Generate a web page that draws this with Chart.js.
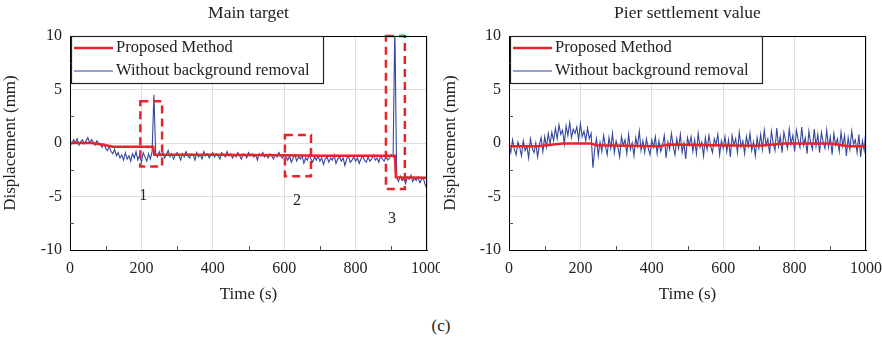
<!DOCTYPE html>
<html>
<head>
<meta charset="utf-8">
<script src="https://cdn.jsdelivr.net/npm/chart.js@4.4.0/dist/chart.umd.min.js"></script>
<style>
    body { margin: 0; background: #fff; width: 882px; height: 347px; position: relative; overflow: hidden; }
    .wrap { position: absolute; top: 0; height: 310px; }
    #cap { position: absolute; top: 316px; left: 0; width: 882px; text-align: center;
           font: 17px 'Liberation Serif', serif; color: #222; }
</style>
</head>
<body>
<div class="wrap" style="left:0;width:440px"><canvas id="main" width="440" height="310"></canvas></div>
<div class="wrap" style="left:440px;width:442px"><canvas id="pier" width="442" height="310"></canvas></div>
<div id="cap">(c)</div>
<script>
// sampling interval of the raw (without background removal) signals, seconds
var STEP = 5;

// Main target, without background removal (one value every 5 s, 0..1000)
var mainRaw = [
    0.2, -0.1, 0.3, 0.0, 0.4, -0.2, 0.1, 0.3, -0.1, 0.2, 0.5, 0.0, 0.3, 0.1, -0.2, 0.2, 0.0,
    -0.2, -0.4, -0.1, -0.5, -0.7, -0.3, -0.8, -1.0, -0.6, -1.2, -0.9, -1.4, -1.1, -1.6, -0.9,
    -1.5, -1.2, -1.7, -1.0, -1.4, -0.8, -1.6, -1.1, -1.8, -0.9, -1.3, -1.7, -1.0, -1.5, -0.8,
    4.5,
    -1.0, -1.3, -0.8, -1.2, -0.9, -1.4, -1.1, -0.7, -1.3, -1.0,
    -1.5, -1.1, -0.9, -1.2, -1.6, -1.0, -1.3, -0.8, -1.2, -1.4,
    -1.0, -1.1, -1.6, -0.9, -1.3, -1.1, -1.5, -0.8, -1.2, -1.0,
    -1.4, -1.1, -0.9, -1.3, -1.0, -1.2, -1.5, -0.9, -1.1, -1.3,
    -0.8, -1.2, -1.0, -1.4, -1.1, -1.3, -0.9, -1.2, -1.5, -1.0,
    -1.1, -1.4, -0.9, -1.2, -1.0, -1.3, -1.1, -1.6, -1.0, -1.2,
    -0.9, -1.3, -1.1, -1.4, -1.0, -1.2, -1.5, -1.1, -1.3, -0.9,
    -1.2, -1.4, -1.1,
    -1.3, -1.6, -1.2, -1.8, -1.4, -1.1, -1.7, -1.3, -1.5, -1.2,
    -1.9, -1.4, -1.6, -1.1, -1.5, -1.8, -1.3, -1.6, -1.2, -1.7,
    -1.4, -2.0, -1.5, -1.3, -1.8, -1.4, -1.6, -1.1, -1.9, -1.5,
    -1.3, -1.7, -1.4, -2.1, -1.5, -1.2, -1.8, -1.6, -1.3, -1.7,
    -1.4, -1.9, -1.5, -1.2, -1.6, -1.8, -1.3, -1.7, -1.5, -1.1,
    -1.6, -1.4, -1.8, -1.2, -1.5, -1.7, -1.3, -1.6, -1.4, -1.1,
    -1.3,
    11,
    -3.2, -3.6, -3.1, -3.5, -3.3, -3.8, -3.2, -3.4, -3.0, -3.6, -3.3, -3.5, -3.2, -3.7, -3.4, -3.3, -3.9, -4.3
];

// Main target, proposed method
var mainProposedT = [0, 60, 90, 120, 233, 236, 400, 600, 700, 910, 913, 1000];
var mainProposedV = [0, 0, -0.15, -0.35, -0.35, -1.1, -1.1, -1.15, -1.2, -1.2, -3.2, -3.25];

// Pier settlement value, without background removal (one value every 5 s)
var pierRaw = [
    -0.2, -0.9, 0.3, -0.6, -1.1, 0.1, -0.4, -1.2, 0.2, -0.7, -0.3, -1.4, 0.4, -0.5, -0.9, 0.0,
    -1.3, -0.2, 0.5, -0.8, 0.6, -0.4, 0.9, -0.1,
    1.0, 0.2, 1.4, 0.4, 1.7, 0.8, 1.2, -0.1, 1.6, 0.7, 1.9, 0.5, 1.3, 0.9, 1.5, 0.3, 1.8, 0.6,
    1.1, 0.2, 1.4, 0.4, 0.9,
    -2.3,
    -0.6, 0.4, -1.2, 0.1, -0.8, 0.7, -0.3, -1.1, 0.5, -0.5, 0.9, -0.9, 0.2, -0.4, -1.3, 0.6,
    -0.2, 0.3, -1.0, 0.8, -0.6, 0.0, -1.2, 0.5, -0.3, 1.1, -0.7, 0.2, -0.9, 0.4, -0.5, -1.1, 0.3,
    -0.4, 0.6, -1.0, 0.2, -0.8, -0.2, 0.7, -1.4, 0.1, -0.6, 0.9, -0.3, -1.1, 0.4, -0.5, 0.8,
    -0.9, 0.0, -1.5, 0.5, -0.2, 0.6, -0.8, 0.3, -1.0, 0.9, -0.4, 0.1, -1.2, 0.5, -0.6, 0.7,
    -0.3, -0.9, 0.4, -0.1, 0.8, -1.1, 0.2, -0.5, 0.6, -0.8, 0.3, -1.3, 0.7, -0.2, 0.4, -0.9,
    1.0, -0.4, 0.2, -1.0, 0.6, -0.3, 0.9, -0.7, 0.1, -1.2, 0.5, -0.5,
    0.8, -0.6, 1.2, -0.2, 0.4, -1.0, 1.1, 0.0, -0.7, 1.4, -0.3, 0.6, -0.9, 1.0, 0.2, -0.5,
    1.3, -0.1, 0.7, -0.8, 1.2, 0.3, -0.4, 1.5, -0.2, 0.5, -1.0, 1.1, 0.0, -0.6, 1.3, -0.3,
    0.8, -0.9, 1.0, 0.1, -0.5, 1.2, -0.4, 0.6, -1.1, 0.9, -0.2, 0.4, -0.8, 1.0, -0.3, 0.7,
    -1.2, 0.5, -0.6, 1.1, -0.1, 0.3, -0.9, 0.8, -1.3, 0.2, -0.7, 1.4
];

var pierProposedT = [0, 80, 150, 230, 245, 420, 450, 560, 700, 770, 900, 950, 1000];
var pierProposedV = [-0.3, -0.3, -0.05, -0.05, -0.2, -0.3, -0.15, -0.2, -0.25, -0.05, -0.05, -0.3, -0.3];

// dashed boxes marking the events on the main target (data units)
var boxX1 = [197, 602, 885];
var boxX2 = [258, 675, 938];
var boxY1 = [-2.2, -3.1, -4.3];
var boxY2 = [3.9, 0.75, 10];
var boxLabels = ['1', '2', '3'];
var boxLabelX = [205, 636, 902];
var boxLabelY = [-4.9, -5.4, -7.1];

var labels = ['Proposed Method', 'Without background removal'];
var RED = '#e8232b';
var BLUE = '#34469f';
var FONT = "'Liberation Serif', 'Times New Roman', serif";

function pairs(t, v) {
    return v.map(function (y, i) { return { x: t[i], y: y }; });
}
function rawPairs(v) {
    return v.map(function (y, i) { return { x: i * STEP, y: y }; });
}

var extras = {
    id: 'extras',
    afterDatasetsDraw: function (chart, args, opts) {
        var ctx = chart.ctx;
        var a = chart.chartArea;
        var xs = chart.scales.x, ys = chart.scales.y;
        ctx.save();

        // event boxes
        if (opts.boxes) {
            ctx.strokeStyle = RED;
            ctx.lineWidth = 2.5;
            ctx.setLineDash([8, 5]);
            for (var i = 0; i < boxX1.length; i++) {
                var l = xs.getPixelForValue(boxX1[i]), r = xs.getPixelForValue(boxX2[i]);
                var t = ys.getPixelForValue(boxY2[i]), b = ys.getPixelForValue(boxY1[i]);
                ctx.strokeRect(l, t, r - l, b - t);
            }
            ctx.setLineDash([]);
            ctx.fillStyle = '#222';
            ctx.font = '16px ' + FONT;
            ctx.textAlign = 'center';
            ctx.textBaseline = 'middle';
            for (var j = 0; j < boxLabels.length; j++) {
                ctx.fillText(boxLabels[j], xs.getPixelForValue(boxLabelX[j]), ys.getPixelForValue(boxLabelY[j]));
            }
        }

        // frame
        ctx.strokeStyle = '#000';
        ctx.lineWidth = 1;
        ctx.strokeRect(a.left + 0.5, a.top + 0.5, a.right - a.left - 1, a.bottom - a.top);

        // minor ticks
        ctx.strokeStyle = '#555';
        [100, 300, 500, 700, 900].forEach(function (v) {
            var px = Math.round(xs.getPixelForValue(v)) + 0.5;
            ctx.beginPath(); ctx.moveTo(px, a.bottom); ctx.lineTo(px, a.bottom - 4); ctx.stroke();
        });
        [7.5, 2.5, -2.5, -7.5].forEach(function (v) {
            var py = Math.round(ys.getPixelForValue(v)) + 0.5;
            ctx.beginPath(); ctx.moveTo(a.left, py); ctx.lineTo(a.left + 4, py); ctx.stroke();
        });

        // legend
        var lx = a.left + 1, ly = a.top, lw = 252, lh = 47;
        ctx.fillStyle = '#fff';
        ctx.fillRect(lx, ly, lw, lh);
        ctx.strokeStyle = '#222';
        ctx.lineWidth = 1.2;
        ctx.strokeRect(lx + 0.5, ly + 0.5, lw, lh);
        ctx.font = '16.5px ' + FONT;
        ctx.textAlign = 'left';
        ctx.textBaseline = 'middle';
        chart.data.datasets.forEach(function (ds, k) {
            var y = ly + 12 + k * 23;
            ctx.strokeStyle = ds.borderColor;
            ctx.lineWidth = ds.borderWidth;
            ctx.beginPath(); ctx.moveTo(lx + 3, y); ctx.lineTo(lx + 42, y); ctx.stroke();
            ctx.fillStyle = '#222';
            ctx.fillText(ds.label, lx + 45, y);
        });
        ctx.restore();
    }
};

function makeChart(id, title, proposed, raw, yWidth, padRight, boxes) {
    return new Chart(document.getElementById(id).getContext('2d'), {
        type: 'line',
        data: {
            datasets: [
                {
                    label: labels[0],
                    data: proposed,
                    borderColor: RED,
                    borderWidth: 2.5,
                    pointRadius: 0,
                    tension: 0,
                    order: 0
                },
                {
                    label: labels[1],
                    data: raw,
                    borderColor: BLUE,
                    borderWidth: 1.1,
                    pointRadius: 0,
                    tension: 0,
                    order: 1
                }
            ]
        },
        options: {
            responsive: false,
            animation: false,
            layout: { padding: { right: padRight } },
            plugins: {
                legend: { display: false },
                tooltip: { enabled: false },
                title: {
                    display: true,
                    text: title,
                    fullSize: false,
                    color: '#222',
                    font: { family: FONT, size: 17.5, weight: 'normal', lineHeight: 1.2 },
                    padding: { top: 3, bottom: 12 }
                },
                extras: { boxes: boxes }
            },
            scales: {
                x: {
                    type: 'linear',
                    min: 0,
                    max: 1000,
                    afterFit: function (s) { s.height = 60; s.paddingLeft = 0; s.paddingRight = 0; },
                    border: { color: '#000' },
                    grid: {
                        drawTicks: false,
                        color: function (c) { return c.tick && c.tick.value % 200 === 0 ? '#dedede' : 'rgba(0,0,0,0)'; }
                    },
                    ticks: {
                        stepSize: 100,
                        autoSkip: false,
                        maxRotation: 0,
                        padding: 9,
                        color: '#222',
                        font: { family: FONT, size: 16 },
                        callback: function (v) { return v % 200 === 0 ? String(v) : ''; }
                    },
                    title: {
                        display: true,
                        text: 'Time (s)',
                        color: '#222',
                        font: { family: FONT, size: 17 },
                        padding: { top: 0, bottom: 5 }
                    }
                },
                y: {
                    min: -10,
                    max: 10,
                    afterFit: function (s) { s.width = yWidth; s.paddingTop = 0; s.paddingBottom = 0; },
                    border: { color: '#000' },
                    grid: {
                        drawTicks: false,
                        color: function (c) { return c.tick && c.tick.value % 5 === 0 ? '#dedede' : 'rgba(0,0,0,0)'; }
                    },
                    ticks: {
                        stepSize: 2.5,
                        autoSkip: false,
                        padding: 8,
                        color: '#222',
                        font: { family: FONT, size: 16 },
                        callback: function (v) { return v % 5 === 0 ? String(v) : ''; }
                    },
                    title: {
                        display: true,
                        text: 'Displacement (mm)',
                        color: '#222',
                        font: { family: FONT, size: 17 },
                        padding: { top: 0, bottom: 8 }
                    }
                }
            }
        },
        plugins: [extras]
    });
}

window.addEventListener('load', function () {
    makeChart('main', 'Main target', pairs(mainProposedT, mainProposedV), rawPairs(mainRaw), 70, 13, true);
    makeChart('pier', 'Pier settlement value', pairs(pierProposedT, pierProposedV), rawPairs(pierRaw), 69, 16, false);
});
</script>
</body>
</html>
